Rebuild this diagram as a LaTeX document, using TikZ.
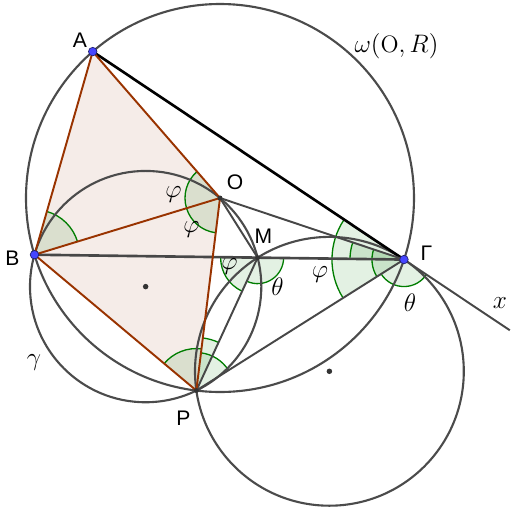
\documentclass[tikz,border=0pt]{standalone}
\usepackage{fontspec}
\usetikzlibrary{calc}
\newfontfamily\ptfont{Liberation Sans}
\definecolor{polyfill}{RGB}{245,236,232}
\definecolor{brownline}{RGB}{153,51,0}
\definecolor{circgray}{RGB}{75,75,75}
\definecolor{anglegreen}{RGB}{0,125,0}
\definecolor{ptblue}{RGB}{70,70,255}
\tikzset{
	circ/.style={circgray, line width=1.2pt},
	seg/.style={black!72, line width=1.1pt},
	brn/.style={brownline, line width=1.1pt},
	angfill/.style={fill=anglegreen, fill opacity=0.11},
	angline/.style={anglegreen, line width=0.75pt},
	bluept/.style={fill=ptblue, draw=ptblue!45!black, line width=0.4pt},
	darkpt/.style={fill=black!80},
	ptlabel/.style={font=\ptfont\fontsize{12}{14}\selectfont},
	mlabel/.style={font=\fontsize{13.5}{16}\selectfont}
}
\begin{document}
\begin{tikzpicture}
			\useasboundingbox (-4.4,-6.34) rectangle (5.84,3.96);

			\coordinate (O) at (0,0);
			\coordinate (A) at (131:3.88);
			\coordinate (B) at (197:3.88);
			\coordinate (P) at (263:3.88);
			\coordinate (G) at (341.5:3.88);
			\coordinate (M) at (0.7526,-1.1928);
			\coordinate (C1) at (230:2.3132);
			\coordinate (C2) at (2.188,-3.466);
			\coordinate (X) at ($(A)!1.34!(G)$);

			% shaded quadrilateral
			\fill [polyfill] (A) -- (O) -- (P) -- (B) -- cycle;

			% angle marks
			\foreach \v/\a/\b/\r in {B/17/74/0.9, O/131/197/0.7, O/197/263/0.7,
				M/179.25/245.25/0.74, M/245.25/359.25/0.52,
				G/146.25/212.25/1.44, G/161.5/179.25/1.08, G/161.5/212.25/0.64, G/212.25/326.25/0.54,
				P/83/140/0.84, P/32.25/83/0.76, P/65.25/83/1.06} {
				\fill [angfill] (\v) -- ++(\a:\r) arc[start angle=\a, end angle=\b, radius=\r] -- cycle;
				\draw [angline] (\v) ++(\a:\r) arc[start angle=\a, end angle=\b, radius=\r];
			}

			% circles
			\draw [circ] (O) circle[radius=3.88];
			\draw [circ] (C1) circle[radius=2.3132];
			\draw [circ] (C2) circle[radius=2.688];

			% segments
			\draw [black, line width=1.5pt] (A) -- (G);
			\draw [seg] (G) -- (X);
			\draw [seg, line width=1.5pt] (B) -- (M) -- (G);
			\draw [seg] (O) -- (G);
			\draw [seg] (O) -- (M);
			\draw [seg] (P) -- (M);
			\draw [seg] (P) -- (G);
			\draw [brn] (A) -- (B) -- (P) -- (O) -- (A);
			\draw [brn] (B) -- (O);

			% points
			\fill [darkpt] (C1) circle[radius=0.055];
			\fill [darkpt] (C2) circle[radius=0.055];
			\fill [darkpt] (O) circle[radius=0.05];
			\fill [darkpt] (M) circle[radius=0.05];
			\fill [darkpt] (P) circle[radius=0.05];
			\filldraw [bluept] (A) circle[radius=0.085];
			\filldraw [bluept] (B) circle[radius=0.085];
			\filldraw [bluept] (G) circle[radius=0.085];

			% labels
			\node [ptlabel] (lA) at (-2.8,3.16) {A};
			\node [ptlabel] (lB) at (-4.15,-1.2) {B};
			\node [ptlabel] (lO) at (0.3,0.32) {O};
			\node [ptlabel] (lM) at (0.87,-0.77) {M};
			\node [ptlabel] (lG) at (4.13,-1.1) {Γ};
			\node [ptlabel] (lP) at (-0.73,-4.4) {P};
			\node [mlabel] (lgam) at (-3.72,-3.3) {$\gamma$};
			\node [mlabel] (lom) at (3.53,3.03) {$\omega(\mathrm{O},R)$};
			\node [mlabel] (lx) at (5.6,-2.1) {$x$};
			\node [mlabel] (phiA) at (-0.93,0.06) {$\varphi$};
			\node [mlabel] (phiB) at (-0.57,-0.64) {$\varphi$};
			\node [mlabel] (phiM) at (0.19,-1.37) {$\varphi$};
			\node [mlabel] (thM) at (1.15,-1.77) {$\theta$};
			\node [mlabel] (phiG) at (2.0,-1.54) {$\varphi$};
			\node [mlabel] (thG) at (3.8,-2.1) {$\theta$};
		\end{tikzpicture}
\end{document}
